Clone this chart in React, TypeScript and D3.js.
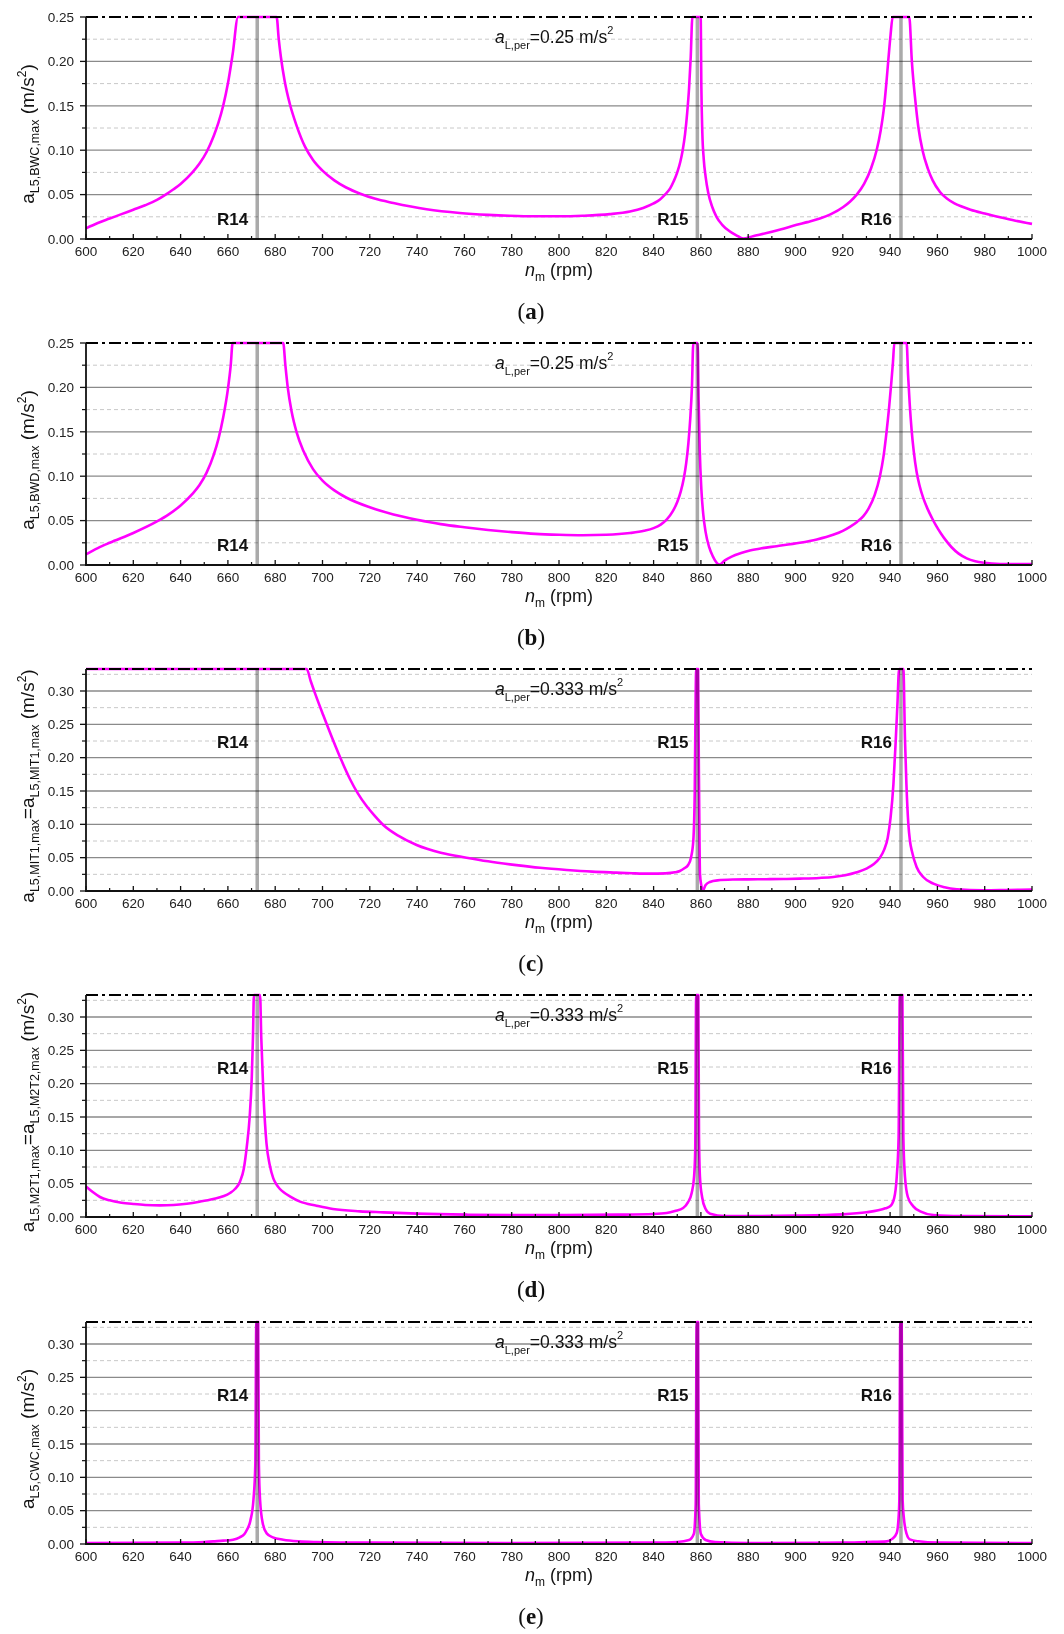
import React from "react";
import * as d3 from "d3";

// ---------- data: [rpm, acceleration (m/s^2)] ----------
const SERIES_A: [number, number][] = [
  [600,0.012],[605,0.018],[610,0.023],[615,0.028],[620,0.033],[625,0.038],[630,0.044],[634,0.0505],[637,0.056],[640,0.062],
  [645,0.075],[648,0.085],[651,0.098],[654,0.116],[656,0.131],[658,0.15],[660,0.175],[662,0.208],[664.3,0.25],[670,0.25],
  [675,0.25],[680.6,0.25],[681.5,0.225],[682.4,0.205],[684,0.178],[686.2,0.152],[689,0.128],[692.6,0.104],[696,0.089],[700,0.077],
  [705,0.066],[710,0.058],[716,0.051],[722,0.0455],[730,0.0405],[744,0.0335],[758,0.0293],[770,0.0272],[779,0.0262],[790,0.0256],
  [800,0.0256],[810,0.0262],[821.5,0.028],[830,0.031],[835.6,0.035],[840,0.04],[842.7,0.0445],[844.8,0.05],[847,0.057],[848.5,0.065],
  [850,0.075],[851.3,0.087],[852.3,0.1],[853.3,0.118],[854.2,0.142],[855,0.17],[855.7,0.205],[856.4,0.25],[858.5,0.25],[859.9,0.25],
  [860.2,0.17],[860.6,0.12],[861.2,0.09],[862,0.07],[863.1,0.052],[864.8,0.036],[866.6,0.025],[869,0.016],[872,0.009],[875,0.0042],
  [877.9,0.0005],[882,0.0032],[887.8,0.0067],[894,0.011],[900.5,0.016],[905,0.019],[910.3,0.023],[915,0.028],[920.2,0.036],[923,0.042],
  [925.9,0.05],[929,0.062],[932,0.08],[934.3,0.1],[936,0.122],[937.5,0.15],[938.4,0.175],[939.2,0.2],[940.2,0.23],[941.1,0.25],
  [944.6,0.25],[948.1,0.25],[949.2,0.2],[950.9,0.15],[952,0.125],[953.7,0.1],[956,0.079],[958,0.066],[961.1,0.053],[964,0.0455],
  [967,0.0405],[970,0.0368],[974,0.033],[980,0.0287],[986.5,0.0245],[993,0.0206],[1000,0.017],
];

const SERIES_B: [number, number][] = [
  [600,0.012],[605,0.019],[610,0.025],[620,0.036],[630,0.049],[635,0.057],[640,0.067],[645,0.08],[648,0.09],[651,0.104],
  [654,0.124],[656,0.142],[658,0.166],[660,0.198],[661.2,0.225],[662,0.25],[672,0.25],[683.4,0.25],[684.3,0.225],[685.3,0.2],
  [687,0.172],[689,0.15],[692,0.128],[696,0.108],[700,0.095],[705,0.084],[710,0.076],[720,0.065],[730,0.057],[740,0.051],
  [750,0.046],[760,0.0425],[770,0.0395],[780,0.037],[790,0.035],[800,0.034],[810,0.0335],[820,0.034],[830,0.036],[836,0.0385],
  [840,0.0415],[843,0.0455],[845.5,0.051],[848,0.06],[850,0.071],[851.5,0.083],[852.8,0.098],[853.8,0.115],[854.7,0.137],[855.5,0.165],
  [856.2,0.2],[856.8,0.25],[858.6,0.25],[859,0.19],[859.5,0.13],[860.2,0.085],[861,0.057],[862,0.037],[863.5,0.02],[865,0.01],
  [867.8,0.0005],[870,0.005],[873,0.0095],[877,0.0135],[880.7,0.0163],[886,0.019],[892,0.0212],[901.8,0.025],[909,0.0288],[915.9,0.034],
  [920,0.0385],[923,0.043],[926,0.0485],[928.7,0.055],[931,0.064],[933.5,0.079],[935.7,0.1],[937.2,0.122],[938.5,0.15],[939.6,0.178],
  [940.5,0.205],[941.2,0.228],[941.8,0.25],[944.6,0.25],[947,0.25],[947.6,0.214],[948.3,0.181],[949.1,0.152],[950,0.128],[951.2,0.105],
  [952.5,0.089],[954,0.0755],[955.8,0.0635],[957.6,0.0535],[959.5,0.044],[961.5,0.0355],[963.5,0.028],[966,0.02],[969,0.0128],[972.4,0.0075],
  [976,0.0042],[980,0.0024],[986.5,0.0012],[993,0.001],[1000,0.001],
];

const SERIES_C: [number, number][] = [
  [600,0.333],[693.3,0.333],[695,0.315],[697,0.295],[700.3,0.264],[704.6,0.225],[708,0.196],[711.6,0.168],[715,0.146],[718.7,0.127],
  [722,0.113],[725.7,0.099],[732,0.083],[739.8,0.069],[750,0.0575],[760.9,0.05],[770,0.0445],[782,0.0388],[792,0.0348],[803.2,0.0315],
  [814,0.029],[824.3,0.0275],[831,0.0266],[838.4,0.026],[845,0.0265],[849,0.028],[851.1,0.03],[853,0.034],[854.6,0.039],[855.8,0.05],
  [856.8,0.076],[857.4,0.15],[857.8,0.3],[858,0.333],[858.8,0.333],[859.1,0.2],[859.4,0.08],[859.6,0.026],[860.2,0.008],[860.8,0.0005],
  [862,0.009],[863.8,0.0136],[867,0.016],[873.6,0.0172],[880,0.0175],[887.8,0.0177],[895,0.018],[901.9,0.0186],[910,0.0196],[916,0.021],
  [921,0.0235],[925.9,0.028],[930,0.0335],[933,0.04],[935.5,0.049],[937.5,0.062],[939,0.08],[940.2,0.11],[941.4,0.16],[942.3,0.22],
  [943.1,0.28],[943.8,0.333],[945.6,0.333],[946.3,0.227],[946.9,0.16],[947.7,0.101],[948.4,0.075],[949.2,0.06],[951.2,0.036],[954,0.021],
  [958.3,0.011],[963,0.0055],[968.2,0.0026],[979.5,0.001],[990,0.0015],[1000,0.002],
];

const SERIES_D: [number, number][] = [
  [600,0.0458],[603,0.037],[605.9,0.03],[610,0.025],[615,0.0215],[620,0.0195],[625,0.018],[631.3,0.0174],[637,0.018],[642.6,0.02],
  [648,0.023],[653.8,0.027],[658,0.031],[660.9,0.036],[663,0.042],[665.1,0.053],[666.7,0.072],[668,0.106],[669.2,0.15],[670.1,0.21],
  [670.6,0.27],[671,0.333],[673.6,0.333],[674.1,0.27],[675,0.186],[675.7,0.14],[676.3,0.111],[677.7,0.078],[679.2,0.058],[680.5,0.049],
  [682,0.042],[684,0.036],[686.2,0.031],[690.5,0.023],[697.5,0.017],[704.4,0.012],[715.8,0.0085],[725.7,0.007],[740,0.005],[761,0.0035],
  [780,0.003],[803,0.003],[825,0.0035],[840,0.0045],[845.5,0.006],[849,0.009],[852.5,0.0135],[854.5,0.022],[856.1,0.036],[857.1,0.06],
  [857.6,0.1],[858,0.333],[858.9,0.333],[859.2,0.12],[859.6,0.06],[860.5,0.03],[862,0.012],[863.9,0.005],[870,0.0015],[885,0.0015],
  [900,0.002],[920,0.004],[930,0.007],[935,0.01],[938,0.013],[940,0.016],[941.7,0.028],[942.8,0.06],[943.6,0.12],[944.1,0.333],
  [945.2,0.333],[945.6,0.12],[946.3,0.06],[947.5,0.03],[949.8,0.016],[953,0.008],[958.3,0.003],[970,0.0015],[1000,0.001],
];

const SERIES_E: [number, number][] = [
  [600,0.0015],[640,0.002],[650,0.003],[653.8,0.004],[658,0.005],[662.2,0.0065],[665,0.01],[667,0.015],[668,0.021],[669.5,0.035],
  [670.8,0.066],[671.6,0.12],[672,0.333],[672.8,0.333],[673.1,0.12],[673.6,0.066],[674.8,0.03],[676.4,0.016],[679,0.01],[683.4,0.0065],
  [690,0.004],[697.5,0.003],[720,0.002],[780,0.0015],[840,0.002],[850,0.003],[855,0.006],[857,0.015],[857.8,0.06],[858.2,0.333],
  [858.8,0.333],[859.1,0.06],[860,0.015],[862,0.006],[866,0.003],[880,0.0015],[920,0.002],[930,0.003],[938.6,0.004],[941,0.008],
  [942.8,0.0165],[943.5,0.035],[943.9,0.066],[944.3,0.333],[944.9,0.333],[945.3,0.066],[945.8,0.04],[947,0.015],[948.3,0.007],[952,0.004],
  [960,0.002],[1000,0.0015],
];

const SERIES = [SERIES_A, SERIES_B, SERIES_C, SERIES_D, SERIES_E];
const RESONANCES = [672.4, 858.5, 944.6];
const RES_LABELS = ["R14", "R15", "R16"];
const X_TICKS = d3.range(600, 1001, 20);
const X_MINOR = d3.range(610, 1000, 20);
const PANEL_LETTERS = ["a", "b", "c", "d", "e"];
const LIMITS = [0.25, 0.25, 0.333, 0.333, 0.333];
const LIMIT_TEXT = ["0.25", "0.25", "0.333", "0.333", "0.333"];
const Y_SUBS = [
  ["L5,BWC,max"],
  ["L5,BWD,max"],
  ["L5,MIT1,max", "L5,MIT1,max"],
  ["L5,M2T1,max", "L5,M2T2,max"],
  ["L5,CWC,max"],
];

// ---------- layout ----------
const W = 1064, H = 1634;
const X0 = 86, X1 = 1032, PH = 222;
const TOPS = [17, 343, 669, 995, 1322];
const FONT = "'Liberation Sans', Arial, sans-serif";

function Panel({ idx }: { idx: number }) {
  const top = TOPS[idx];
  const bottom = top + PH;
  const limit = LIMITS[idx];
  const x = d3.scaleLinear().domain([600, 1000]).range([X0, X1]);
  const y = d3.scaleLinear().domain([0, limit]).range([bottom, top]);
  const pts: [number, number][] = SERIES[idx].map((p) => [p[0], Math.min(p[1], limit)]);
  const line = d3
    .line<[number, number]>()
    .x((d) => x(d[0]))
    .y((d) => y(d[1]))
    .curve(d3.curveMonotoneX);
  const major = d3.range(0, limit + 1e-9, 0.05).map((v) => +v.toFixed(3));
  const minor = d3.range(0.025, limit, 0.05).map((v) => +v.toFixed(3));
  const fmt = d3.format(".2f");
  const labelBottom = idx < 2;
  const rY = labelBottom ? bottom - 14 : top + 79;
  const subs = Y_SUBS[idx];
  const cy = (top + bottom) / 2 + 6;

  return (
    <g>
      {minor.map((v) => (
        <line key={"mg" + v} x1={X0} x2={X1} y1={y(v)} y2={y(v)} stroke="#c8c8c8" strokeWidth={1} strokeDasharray="4,3" />
      ))}
      {major.filter((v) => v > 0 && v < limit - 1e-6).map((v) => (
        <line key={"g" + v} x1={X0} x2={X1} y1={y(v)} y2={y(v)} stroke="#8a8a8a" strokeWidth={1.3} />
      ))}
      <path d={line(pts) || ""} fill="none" stroke="#ff00ff" strokeWidth={2.6} strokeLinejoin="round" />
      <line x1={X0} x2={X1} y1={y(limit)} y2={y(limit)} stroke="#000" strokeWidth={1.8} strokeDasharray="12,4,3,4" />
      {RESONANCES.map((r) => (
        <line key={"r" + r} x1={x(r)} x2={x(r)} y1={top} y2={bottom} stroke="#aaaaaa" strokeWidth={3.5} style={{ mixBlendMode: "multiply" }} />
      ))}
      <line x1={X0} x2={X0} y1={top} y2={bottom + 0.9} stroke="#111" strokeWidth={1.8} />
      <line x1={X0 - 0.9} x2={X1} y1={bottom} y2={bottom} stroke="#111" strokeWidth={1.8} />
      {major.map((v) => (
        <g key={"yt" + v}>
          <line x1={X0 - 6} x2={X0} y1={y(v)} y2={y(v)} stroke="#111" strokeWidth={1.3} />
          <text x={X0 - 12} y={y(v)} dy="0.35em" textAnchor="end" fontSize={13.5} fontFamily={FONT} fill="#222">
            {fmt(v)}
          </text>
        </g>
      ))}
      {minor.map((v) => (
        <line key={"ymt" + v} x1={X0 - 4} x2={X0} y1={y(v)} y2={y(v)} stroke="#111" strokeWidth={1.2} />
      ))}
      {X_TICKS.map((t) => (
        <g key={"xt" + t}>
          <line x1={x(t)} x2={x(t)} y1={bottom} y2={bottom - 5} stroke="#111" strokeWidth={1.3} />
          <text x={x(t)} y={bottom + 17} textAnchor="middle" fontSize={13.5} fontFamily={FONT} fill="#222">
            {t}
          </text>
        </g>
      ))}
      {X_MINOR.map((t) => (
        <line key={"xm" + t} x1={x(t)} x2={x(t)} y1={bottom} y2={bottom - 3} stroke="#111" strokeWidth={1.2} />
      ))}
      {RESONANCES.map((r, i) => (
        <text key={"rl" + r} x={x(r) - 9} y={rY} textAnchor="end" fontSize={17} fontWeight="bold" fontFamily={FONT} fill="#111">
          {RES_LABELS[i]}
        </text>
      ))}
      <text x={495} y={top + 26} fontSize={17.5} fontFamily={FONT} fill="#111">
        <tspan fontStyle="italic">a</tspan>
        <tspan fontSize={11} dy={6}>L,per</tspan>
        <tspan dy={-6}>{"=" + LIMIT_TEXT[idx] + " m/s"}</tspan>
        <tspan fontSize={11} dy={-9}>2</tspan>
      </text>
      <text transform={`translate(34,${cy}) rotate(-90)`} textAnchor="middle" fontSize={19} fontFamily={FONT} fill="#111">
        <tspan>a</tspan>
        <tspan fontSize={12.5} dy={5}>{subs[0]}</tspan>
        {subs.length > 1 ? (
          <>
            <tspan dy={-5}>=a</tspan>
            <tspan fontSize={12.5} dy={5}>{subs[1]}</tspan>
          </>
        ) : null}
        <tspan dy={-5}>{" (m/s"}</tspan>
        <tspan fontSize={12} dy={-8}>2</tspan>
        <tspan dy={8}>)</tspan>
      </text>
      <text x={(X0 + X1) / 2} y={bottom + 37} textAnchor="middle" fontSize={18} fontFamily={FONT} fill="#111">
        <tspan fontStyle="italic">n</tspan>
        <tspan fontSize={12} dy={5}>m</tspan>
        <tspan dy={-5}>{" (rpm)"}</tspan>
      </text>
      <text x={531} y={bottom + 80} textAnchor="middle" fontSize={23} fontFamily="'Liberation Serif', 'DejaVu Serif', serif" fill="#111">
        (<tspan fontWeight="bold">{PANEL_LETTERS[idx]}</tspan>)
      </text>
    </g>
  );
}

export default function App() {
  return (
    <svg
      width={W}
      height={H}
      viewBox={`0 0 ${W} ${H}`}
      style={{ position: "absolute", left: 0, top: 0, background: "#fff" }}
    >
      <rect x={0} y={0} width={W} height={H} fill="#fff" />
      {TOPS.map((_, i) => (
        <Panel key={i} idx={i} />
      ))}
    </svg>
  );
}
